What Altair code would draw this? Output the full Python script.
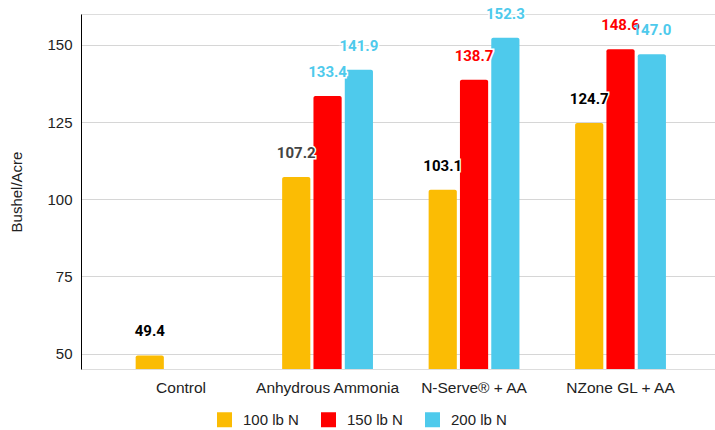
import altair as alt
import pandas as pd

categories = ["Control", "Anhydrous Ammonia", "N-Serve® + AA", "NZone GL + AA"]
series = ["100 lb N", "150 lb N", "200 lb N"]
values_100 = [49.4, 107.2, 103.1, 124.7]
values_150 = [None, 133.4, 138.7, 148.6]
values_200 = [None, 141.9, 152.3, 147.0]
bar_colors = ["#fbbc04", "#ff0000", "#4ecaec"]
# colours of the value labels, as they appear in the reference
label_colors_100 = ["#000000", "#444444", "#000000", "#000000"]
label_colors_150 = [None, "#4ecaec", "#ff0000", "#ff0000"]
label_colors_200 = [None, "#4ecaec", "#4ecaec", "#4ecaec"]

rows = []
for s, vals, lcs in zip(series, [values_100, values_150, values_200],
                        [label_colors_100, label_colors_150, label_colors_200]):
    for c, v, lc in zip(categories, vals, lcs):
        if v is not None:
            rows.append({"category": c, "series": s, "value": v,
                         "label": f"{v:.1f}", "lc": lc})
df = pd.DataFrame(rows)

x = alt.X("category:N", sort=categories, title=None,
          scale=alt.Scale(paddingInner=0.38, paddingOuter=0.354, align=0.527),
          axis=alt.Axis(labelAngle=0, domain=False, ticks=False, labelFontSize=15.5,
                        labelFont="Liberation Sans", labelColor="#222222", labelPadding=11))
xo = alt.XOffset("series:N", scale=alt.Scale(domain=series, paddingInner=0.1))
y = alt.Y("value:Q", title="Bushel/Acre",
          scale=alt.Scale(domain=[45, 160], nice=False, zero=False),
          axis=alt.Axis(values=[50, 75, 100, 125, 150], domain=True, domainColor="#000000",
                        domainWidth=1, ticks=False, grid=True, gridColor="#d6d6d6",
                        labelFontSize=15, labelFont="Liberation Sans", labelColor="#222222",
                        labelPadding=9, titleFontSize=15, titleFont="Liberation Sans",
                        titleFontWeight="normal", titleColor="#222222", titlePadding=22))

base = alt.Chart(df)

bars = base.mark_bar(cornerRadiusTopLeft=2, cornerRadiusTopRight=2).encode(
    x=x, xOffset=xo, y=y, y2=alt.datum(45),
    color=alt.Color("series:N", scale=alt.Scale(domain=series, range=bar_colors),
                    legend=alt.Legend(title=None, orient="none", direction="horizontal",
                                      legendX=136, legendY=398,
                                      symbolType="square", symbolSize=225,
                                      symbolStrokeWidth=0, labelFontSize=15,
                                      labelFont="Liberation Sans", labelColor="#222222",
                                      columnPadding=22, labelOffset=11)),
)

halo = base.mark_text(font="Roboto", fontSize=15, fontWeight="bold", baseline="middle",
                      dy=-24, stroke="white", strokeWidth=3, fill="white").encode(
    x=x, xOffset=xo, y=y, text="label:N")

labels = base.mark_text(font="Roboto", fontSize=15, fontWeight="bold", baseline="middle",
                        dy=-24).encode(
    x=x, xOffset=xo, y=y, text="label:N",
    color=alt.Color("lc:N", scale=None))

chart = alt.layer(bars, halo, labels).resolve_scale(color="independent").properties(
    width=634, height=355,
    autosize=alt.AutoSizeParams(type="none"),
    padding={"left": 81, "top": 14, "right": 0, "bottom": 61},
).configure_view(stroke=None).configure(background="white")

chart.save("out.html", embed_options={"renderer": "svg", "actions": False})
